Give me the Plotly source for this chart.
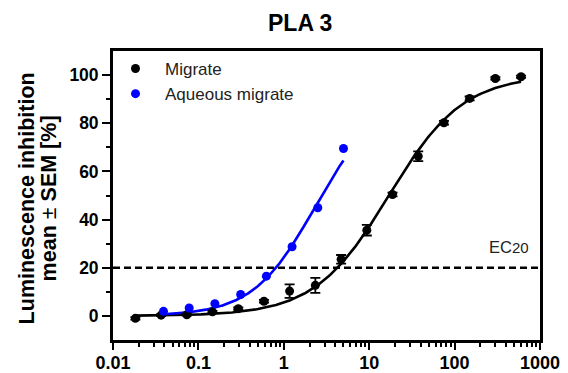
import numpy as np
import plotly.graph_objects as go

# ---- data ----
migrate_conc = [0.0183, 0.0366, 0.0732, 0.146, 0.293, 0.586, 1.17, 2.34, 4.69, 9.38, 18.75, 37.5, 75, 150, 300, 600]
migrate_inh = [-1.0, 0.3, 0.5, 1.7, 3.0, 6.1, 10.3, 12.7, 23.5, 35.6, 50.4, 66.3, 80.2, 90.3, 98.6, 99.3]
migrate_sem = [0.5, 0.4, 0.4, 0.4, 0.5, 0.6, 2.8, 3.1, 1.8, 2.2, 0.8, 2.0, 0.8, 0.8, 0.5, 0.5]

aqueous_conc = [0.039, 0.078, 0.156, 0.3125, 0.625, 1.25, 2.5, 5]
aqueous_inh = [1.9, 3.3, 5.1, 8.9, 16.5, 28.7, 44.9, 69.5]

# four-parameter logistic fit parameters (bottom, top, EC50, hill slope)
migrate_fit = dict(bottom=0.0, top=100.0, ec50=17.0, hill=1.0)
aqueous_fit = dict(bottom=0.0, top=90.0, ec50=2.3, hill=1.2)

ec_level = 20
x_ticks = [0.01, 0.1, 1, 10, 100, 1000]
x_tick_labels = ["0.01", "0.1", "1", "10", "100", "1000"]
y_ticks = [0, 20, 40, 60, 80, 100]
y_minor = [10, 30, 50, 70, 90]

FONT = "Arial, Liberation Sans, sans-serif"
PLOT_W = 568 - 113 - 28


def hill(x, p):
    x = np.asarray(x, dtype=float)
    return p["bottom"] + (p["top"] - p["bottom"]) / (1 + (p["ec50"] / x) ** p["hill"])


xm = np.logspace(np.log10(min(migrate_conc)), np.log10(max(migrate_conc)), 300)
xa = np.logspace(np.log10(min(aqueous_conc)), np.log10(max(aqueous_conc)), 300)

fig = go.Figure()

# fitted curves
fig.add_trace(go.Scatter(x=xm, y=hill(xm, migrate_fit), mode="lines",
                         line=dict(color="black", width=2.6), showlegend=False, hoverinfo="skip"))
fig.add_trace(go.Scatter(x=xa, y=hill(xa, aqueous_fit), mode="lines",
                         line=dict(color="#0000ff", width=2.6), showlegend=False, hoverinfo="skip"))

# data points
fig.add_trace(go.Scatter(x=migrate_conc, y=migrate_inh, mode="markers", name="Migrate",
                         marker=dict(color="black", size=9),
                         error_y=dict(type="data", array=migrate_sem, visible=True,
                                      color="black", thickness=1.8, width=5)))
fig.add_trace(go.Scatter(x=aqueous_conc, y=aqueous_inh, mode="markers", name="Aqueous migrate",
                         marker=dict(color="#0000ff", size=9)))

# EC20 line
fig.add_shape(type="line", xref="paper", x0=0, x1=1, yref="y", y0=ec_level, y1=ec_level,
              line=dict(color="black", width=2.4, dash="7px,4px"), layer="above")

fig.add_annotation(xref="paper", yref="y", x=1.0, y=ec_level, xanchor="right", yanchor="bottom",
                   xshift=-9, yshift=10, showarrow=False,
                   text="EC<span style='font-size:15px'>20</span>",
                   font=dict(family=FONT, size=16.5, color="#222222"))

# title
fig.add_annotation(xref="paper", yref="paper", x=(300 - 113) / PLOT_W, y=1, yanchor="bottom",
                   yshift=13, showarrow=False, text="<b>PLA 3</b>",
                   font=dict(family=FONT, size=23, color="black"))

# y axis title (two lines)
fig.add_annotation(xref="paper", yref="paper", x=(27 - 113) / PLOT_W, y=0.49, xanchor="center",
                   yanchor="middle", textangle=-90, showarrow=False,
                   text="<b>Luminescence inhibition</b>",
                   font=dict(family=FONT, size=21.5, color="black"))
fig.add_annotation(xref="paper", yref="paper", x=(49 - 113) / PLOT_W, y=0.49, xanchor="center",
                   yanchor="middle", textangle=-90, showarrow=False,
                   text="<b>mean </b>±<b> SEM [%]</b>",
                   font=dict(family=FONT, size=21.5, color="black"))

fig.update_layout(
    width=568, height=373,
    margin=dict(l=113, r=28, t=51, b=33),
    paper_bgcolor="white", plot_bgcolor="white",
    font=dict(family=FONT, color="black"),
    showlegend=True,
    legend=dict(x=-7 / PLOT_W, y=1.0, xanchor="left", yanchor="top", bgcolor="rgba(0,0,0,0)",
                font=dict(family=FONT, size=17, color="#222222"), itemwidth=49,
                tracegroupgap=0, traceorder="normal"),
    xaxis=dict(type="log", range=[np.log10(0.01), np.log10(1000)], automargin=False,
               tickvals=x_ticks, ticktext=x_tick_labels, ticklabelstandoff=-3,
               ticks="outside", ticklen=7, tickwidth=2.2, tickcolor="black",
               showline=True, linewidth=2.8, linecolor="black", mirror=True,
               showgrid=False, zeroline=False,
               tickfont=dict(family=FONT, size=18, color="black", weight="bold"),
               minor=dict(ticks="outside", ticklen=4, tickwidth=1.8, tickcolor="black",
                          dtick="D1", showgrid=False)),
    yaxis=dict(range=[-10, 110], tickvals=y_ticks, automargin=False,
               ticks="outside", ticklen=8, tickwidth=2.2, tickcolor="black",
               showline=True, linewidth=2.8, linecolor="black", mirror=True,
               showgrid=False, zeroline=False,
               tickfont=dict(family=FONT, size=17.5, color="black", weight="bold"),
               minor=dict(ticks="outside", ticklen=4, tickwidth=1.8, tickcolor="black",
                          tickvals=y_minor, showgrid=False)),
)

fig.write_html("out.html")
